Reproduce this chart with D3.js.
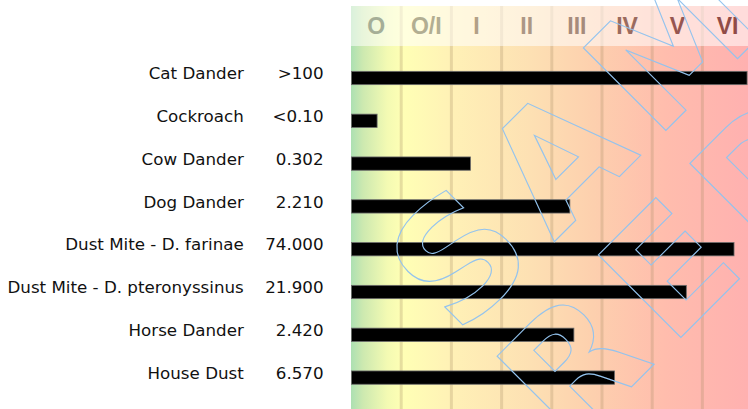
<!DOCTYPE html>
<html>
<head>
<meta charset="utf-8">
<script src="https://cdn.jsdelivr.net/npm/d3@7"></script>
<style>
html,body{margin:0;padding:0;background:#fff;}
svg{display:block;}
</style>
</head>
<body>
<svg id="chart" width="748" height="409"></svg>
<script>
// ---- data ----
const categories = ["Cat Dander","Cockroach","Cow Dander","Dog Dander","Dust Mite - D. farinae","Dust Mite - D. pteronyssinus","Horse Dander","House Dust"];
const resultLabels = [">100","<0.10","0.302","2.210","74.000","21.900","2.420","6.570"];
// bar length, in class-column units (0 = start of class O)
const barLevels = [7.88, 0.51, 2.37, 4.35, 7.62, 6.67, 4.43, 5.24];
const classLabels = ["O","O/I","I","II","III","IV","V","VI"];
const classColors = ["#a5ae97","#b2ae92","#b2a086","#ac9785","#a68b7b","#9b6b5e","#975650","#914b47"];
const watermarkLines = ["SAMPLE","REPORT"];

const svg = d3.select("#chart");

const x = d3.scaleLinear().domain([0, classLabels.length]).range([351, 752.6]);
const y = d3.scalePoint().domain(categories).range([78, 377.6]);

const defs = svg.append("defs");
const grad = defs.append("linearGradient").attr("id","bg")
  .attr("gradientUnits","userSpaceOnUse")
  .attr("x1", x(0)).attr("x2", x(8)).attr("y1",0).attr("y2",0);
[[0,"#ace0b2"],[0.03,"#cde9b0"],[0.09,"#f3fab3"],[0.13,"#ffffb5"],[0.26,"#fff0b6"],[0.45,"#fde0b3"],[0.6,"#fdd0ae"],[0.78,"#ffbdad"],[1,"#ffb0b0"]]
  .forEach(([o,c]) => grad.append("stop").attr("offset", o).attr("stop-color", c));

// background
svg.append("rect").attr("x", x(0)).attr("y", 6).attr("width", x(8)-x(0)).attr("height", 409-6)
  .attr("fill","url(#bg)");

// grid lines between classes
svg.append("g").selectAll("line").data(d3.range(1, classLabels.length)).join("line")
  .attr("x1", d => x(d)).attr("x2", d => x(d))
  .attr("y1", 6).attr("y2", 409)
  .attr("stroke","rgba(170,140,100,0.28)").attr("stroke-width",3);

// header band
svg.append("rect").attr("x", x(0)).attr("y", 6).attr("width", x(8)-x(0)).attr("height", 40)
  .attr("fill","rgba(255,255,255,0.55)");

svg.append("g").selectAll("text").data(classLabels).join("text")
  .attr("x", (d,i) => x(i+0.5)).attr("y", 34.3)
  .attr("text-anchor","middle")
  .attr("font-family","'Liberation Sans', Arial, sans-serif")
  .attr("font-weight","bold").attr("font-size", 23)
  .attr("fill", (d,i) => classColors[i])
  .text(d => d);

// bars
const barH = 13.3;
svg.append("g").selectAll("rect").data(categories).join("rect")
  .attr("x", x(0) + 0.5)
  .attr("y", d => y(d) - barH/2)
  .attr("width", (d,i) => x(barLevels[i]) - x(0))
  .attr("height", barH)
  .attr("fill","#000").attr("stroke","#6b6b6b").attr("stroke-width",0.8);

// labels
const labelFont = "'DejaVu Sans', sans-serif";
svg.append("g").selectAll("text").data(categories).join("text")
  .attr("x", 243.8).attr("y", d => y(d) + 1.2)
  .attr("text-anchor","end").attr("font-family", labelFont).attr("font-size", 16.7)
  .attr("fill","#111").text(d => d);

svg.append("g").selectAll("text").data(categories).join("text")
  .attr("x", 323.6).attr("y", d => y(d) + 1.2)
  .attr("text-anchor","end").attr("font-family", labelFont).attr("font-size", 16.7)
  .attr("fill","#111").text((d,i) => resultLabels[i]);

// watermark
const wm = svg.append("g").attr("transform","rotate(-45)").attr("pointer-events","none");
wm.selectAll("text").data(watermarkLines).join("text")
  .attr("x", 85)
  .attr("y", (d,i) => i === 0 ? 563 : 720)
  .attr("font-family","'DejaVu Sans', sans-serif").attr("font-weight","bold")
  .attr("font-size", 160).attr("letter-spacing", 20)
  .attr("fill","none").attr("stroke","#93c3ee").attr("stroke-width",1.1)
  .text(d => d);
</script>
</body>
</html>
